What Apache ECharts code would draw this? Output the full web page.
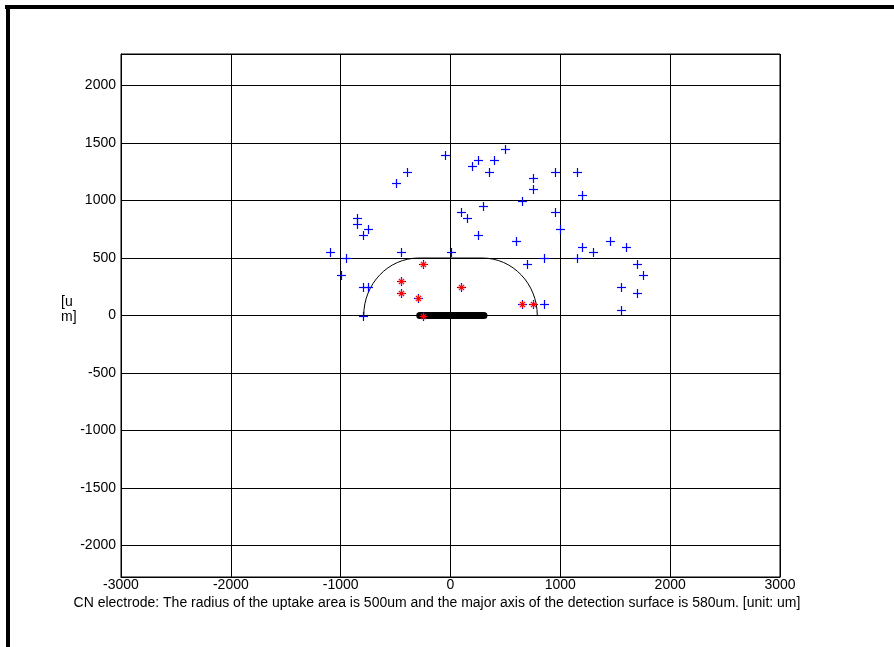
<!DOCTYPE html>
<html><head><meta charset="utf-8">
<script src="https://cdn.jsdelivr.net/npm/echarts@6/dist/echarts.min.js"></script>
<style>html,body{margin:0;padding:0;background:#fff}#c{width:894px;height:647px}</style>
</head><body><div id="c"></div>
<script>
// ---- data ----
const xTicks = [-3000, -2000, -1000, 0, 1000, 2000, 3000];
const yTicks = [-2000, -1500, -1000, -500, 0, 500, 1000, 1500, 2000];
const xRange = [-3000, 3000];
const yRange = [-2275, 2275];
const bluePoints = [
  [-50,1400],[500,1450],[250,1350],[200,1300],[400,1350],[350,1250],[-400,1250],[-500,1150],
  [750,1200],[750,1100],[950,1250],[1150,1250],[1200,1050],[650,1000],[300,950],[100,900],
  [150,850],[-850,850],[-850,800],[-750,750],[-800,700],[250,700],[600,650],[950,900],
  [1000,750],[1200,600],[1300,550],[-1100,550],[-950,500],[-450,550],[0,550],[850,500],
  [1150,500],[700,445],[-1000,350],[-800,250],[-750,250],[-800,0],[850,100],[1450,650],
  [1600,600],[1700,445],[1750,350],[1550,250],[1700,200],[1550,50],
  [-250,445],[-450,300],[-450,200],[-300,150],[100,250],[650,100],[750,100],[-250,0]
];
const redPoints = [
  [-250,445],[-450,300],[-450,200],[-300,150],[100,250],[650,100],[750,100],[-250,0]
];
const uptakeRadius = 500;      // um
const detectionAxis = 580;     // um (major axis of detection surface)
const detectionLine = [[-280,0],[305,0]];
const yName = '[u\nm]';
const caption = 'CN electrode: The radius of the uptake area is 500um and the major axis of the detection surface is 580um. [unit: um]';

// ---- chart ----
const chart = echarts.init(document.getElementById('c'), null, {renderer: 'canvas'});
const FONT = "'Liberation Sans', Arial, Helvetica, sans-serif";

function crisp(v){ return Math.round(v) + 0.5; }

function plusItem(params, api){
  const p = api.coord([api.value(0), api.value(1)]);
  const x = crisp(p[0]), y = crisp(p[1]), h = 4.5;
  return {type:'group', children:[
    {type:'line', shape:{x1:x-h,y1:y,x2:x+h,y2:y}, style:{stroke:'#0000ff', lineWidth:1.2}},
    {type:'line', shape:{x1:x,y1:y-h,x2:x,y2:y+h}, style:{stroke:'#0000ff', lineWidth:1.2}}
  ]};
}
function starItem(params, api){
  const p = api.coord([api.value(0), api.value(1)]);
  const x = crisp(p[0]), y = crisp(p[1]), h = 3.5, d = 2.6;
  const st = {stroke:'#ff0000', lineWidth:1.2};
  return {type:'group', children:[
    {type:'line', shape:{x1:x-h,y1:y,x2:x+h,y2:y}, style:st},
    {type:'line', shape:{x1:x,y1:y-h,x2:x,y2:y+h}, style:st},
    {type:'line', shape:{x1:x-d,y1:y-d,x2:x+d,y2:y+d}, style:st},
    {type:'line', shape:{x1:x-d,y1:y+d,x2:x+d,y2:y-d}, style:st}
  ]};
}
function stadiumItem(params, api){
  const R = uptakeRadius, L = detectionAxis / 2, k = 0.5523;
  const c = (x, y) => api.coord([x, y]);
  const p0 = c(-L-R, 0), c1 = c(-L-R, R*k), c2 = c(-L-R*k, R), p1 = c(-L, R);
  const p2 = c(L, R), c3 = c(L+R*k, R), c4 = c(L+R, R*k), p3 = c(L+R, 0);
  const d = `M${p0[0]},${p0[1]} C${c1[0]},${c1[1]} ${c2[0]},${c2[1]} ${p1[0]},${p1[1]} L${p2[0]},${p2[1]} C${c3[0]},${c3[1]} ${c4[0]},${c4[1]} ${p3[0]},${p3[1]} Z`;
  return {type:'path', shape:{pathData:d}, style:{fill:null, stroke:'#000', lineWidth:1}};
}

const option = {
  animation: false,
  backgroundColor: '#fff',
  grid: {left: 121, right: 114, top: 54, bottom: 70, show: true, borderColor: '#000', borderWidth: 1, containLabel: false},
  xAxis: {
    type: 'value', min: xRange[0], max: xRange[1], interval: 1000,
    axisLine: {show: true, onZero: false, lineStyle: {color: '#000', width: 1}},
    axisTick: {show: false},
    axisLabel: {color: '#000', fontSize: 14, fontFamily: FONT, margin: 1,
      formatter: v => (xTicks.indexOf(v) >= 0 ? String(v) : '')},
    splitLine: {show: true, lineStyle: {color: '#000', width: 1}}
  },
  yAxis: {
    type: 'value', min: yRange[0], max: yRange[1], splitNumber: 9,
    axisLine: {show: true, onZero: false, lineStyle: {color: '#000', width: 1}},
    axisTick: {show: false},
    axisLabel: {color: '#000', fontSize: 14, fontFamily: FONT, margin: 5, showMinLabel: false, showMaxLabel: false,
      formatter: v => (yTicks.indexOf(v) >= 0 ? String(v) : '')},
    splitLine: {show: true, lineStyle: {color: '#000', width: 1}}
  },
  graphic: [
    {type: 'rect', shape: {x: 5, y: 5, width: 889, height: 4}, style: {fill: '#000'}},
    {type: 'rect', shape: {x: 6, y: 5, width: 4, height: 642}, style: {fill: '#000'}},
    {type: 'text', left: 61, top: 295, style: {text: yName, font: '14px ' + FONT, fill: '#000', lineHeight: 15}},
    {type: 'text', x: 437, y: 603, style: {text: caption, font: '14px ' + FONT, fill: '#000', align: 'center', verticalAlign: 'middle'}}
  ],
  series: [
    {type: 'custom', name: 'uptake', data: [[0, 0]], renderItem: stadiumItem, z: 3, silent: true},
    {type: 'line', name: 'detection', data: detectionLine, symbol: 'none', z: 4, silent: true,
      lineStyle: {color: '#000', width: 7, cap: 'round'}},
    {type: 'custom', name: 'blue', data: bluePoints, renderItem: plusItem, z: 5, silent: true},
    {type: 'custom', name: 'red', data: redPoints, renderItem: starItem, z: 6, silent: true}
  ]
};
chart.setOption(option);
</script>
</body></html>
